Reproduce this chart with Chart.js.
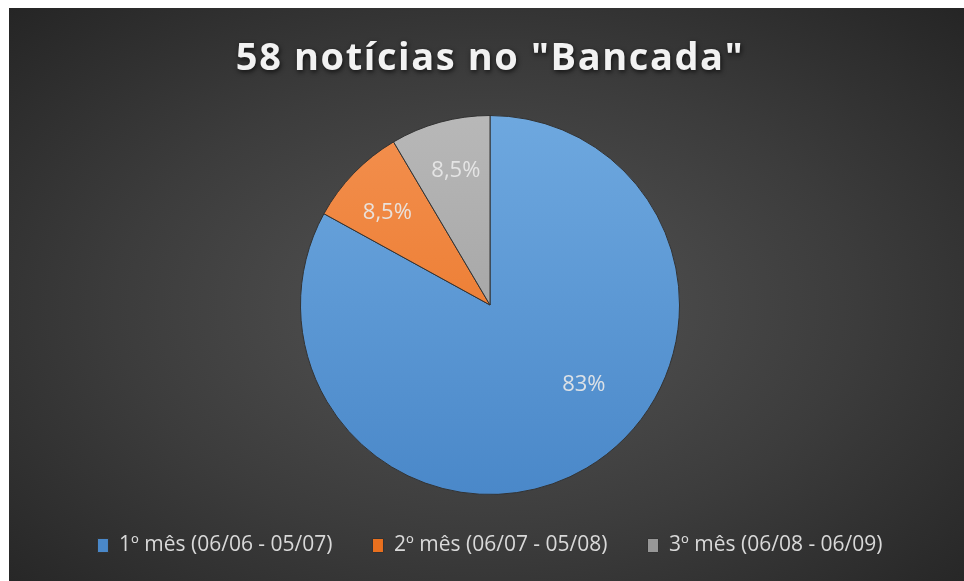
<!DOCTYPE html>
<html>
  <head>
    <title>58 notícias no "Bancada"</title>
    <script src="https://cdn.jsdelivr.net/npm/chart.js@4.4.0/dist/chart.umd.min.js"></script>
    <style>
      body { margin: 0; background: #fff; }
      #box {
        position: absolute; left: 9px; top: 8px; width: 955px; height: 573px;
        background: radial-gradient(ellipse farthest-corner at 50% 52%, #555 0%, #3c3c3c 55%, #252525 100%);
      }
    </style>
  </head>
  <body>
    <div id="box"><canvas id="chart" width="955" height="573"></canvas></div>

    <script type="text/javascript">

      const titleText = '58 notícias no "Bancada"';
      const labels = ['1º mês (06/06 - 05/07)', '2º mês (06/07 - 05/08)', '3º mês (06/08 - 06/09)'];
      const values = [83, 8.5, 8.5];

      // top/bottom of the slice gradients
      const topColors = ['#6ea8df', '#f3904f', '#b8b8b8'];
      const bottomColors = ['#4a88c9', '#e8701f', '#979797'];

      function fill(ctx) {
        const i = ctx.dataIndex;
        const a = ctx.chart.chartArea;
        if (!a) return bottomColors[i];
        const g = ctx.chart.ctx.createLinearGradient(0, a.top, 0, a.bottom);
        g.addColorStop(0, topColors[i]);
        g.addColorStop(1, bottomColors[i]);
        return g;
      }

      // title only: letter spacing + shadow
      const titleStyle = {
        id: 'titleStyle',
        beforeDraw(chart) {
          const tb = chart.titleBlock;
          if (!tb || tb._styled) return;
          const orig = tb.draw.bind(tb);
          tb.draw = function () {
            const c = chart.ctx;
            c.save();
            c.letterSpacing = '1.6px';
            c.shadowColor = 'rgba(0,0,0,0.7)';
            c.shadowBlur = 5;
            c.shadowOffsetX = 1;
            c.shadowOffsetY = 2;
            orig();
            c.restore();
          };
          tb._styled = true;
        }
      };

      // percent labels inside the slices
      const labelPos = [{ f: 0.65, da: -19 }, { f: 0.73, da: -2 }, { f: 0.73, da: 1 }];
      const sliceLabels = {
        id: 'sliceLabels',
        afterDatasetsDraw(chart) {
          const c = chart.ctx;
          const meta = chart.getDatasetMeta(0);
          c.save();
          c.font = '22px "Open Sans"';
          c.fillStyle = 'rgba(232,232,232,0.92)';
          c.textAlign = 'center';
          c.textBaseline = 'middle';
          meta.data.forEach((arc, i) => {
            const p = arc.getProps(['x', 'y', 'startAngle', 'endAngle', 'outerRadius'], true);
            const mid = (p.startAngle + p.endAngle) / 2 + labelPos[i].da * Math.PI / 180;
            const r = p.outerRadius * labelPos[i].f;
            const txt = String(values[i]).replace('.', ',') + '%';
            c.fillText(txt, p.x + Math.cos(mid) * r, p.y + Math.sin(mid) * r);
          });
          c.restore();
        }
      };

      const ctx = document.getElementById('chart').getContext('2d');
      const myChart = new Chart(ctx, {
        type: 'pie',
        data: {
          labels: labels,
          datasets: [{
            data: values,
            backgroundColor: fill,
            borderColor: '#333',
            borderWidth: 1
          }]
        },
        options: {
          responsive: false,
          animation: false,
          layout: { padding: { left: 7, right: 0, top: 0, bottom: 15 } },
          plugins: {
            title: {
              display: true,
              text: titleText,
              color: '#f2f2f2',
              font: { family: '"Open Sans"', size: 38, weight: 'bold' },
              padding: { top: 28, bottom: 33.4 }
            },
            legend: {
              position: 'bottom',
              labels: {
                color: '#d9d9d9',
                font: { family: '"Open Sans"', size: 21 },
                boxWidth: 11,
                boxHeight: 14,
                padding: 40
              }
            },
            tooltip: { enabled: false }
          }
        },
        plugins: [titleStyle, sliceLabels]
      });

    </script>
  </body>
</html>
